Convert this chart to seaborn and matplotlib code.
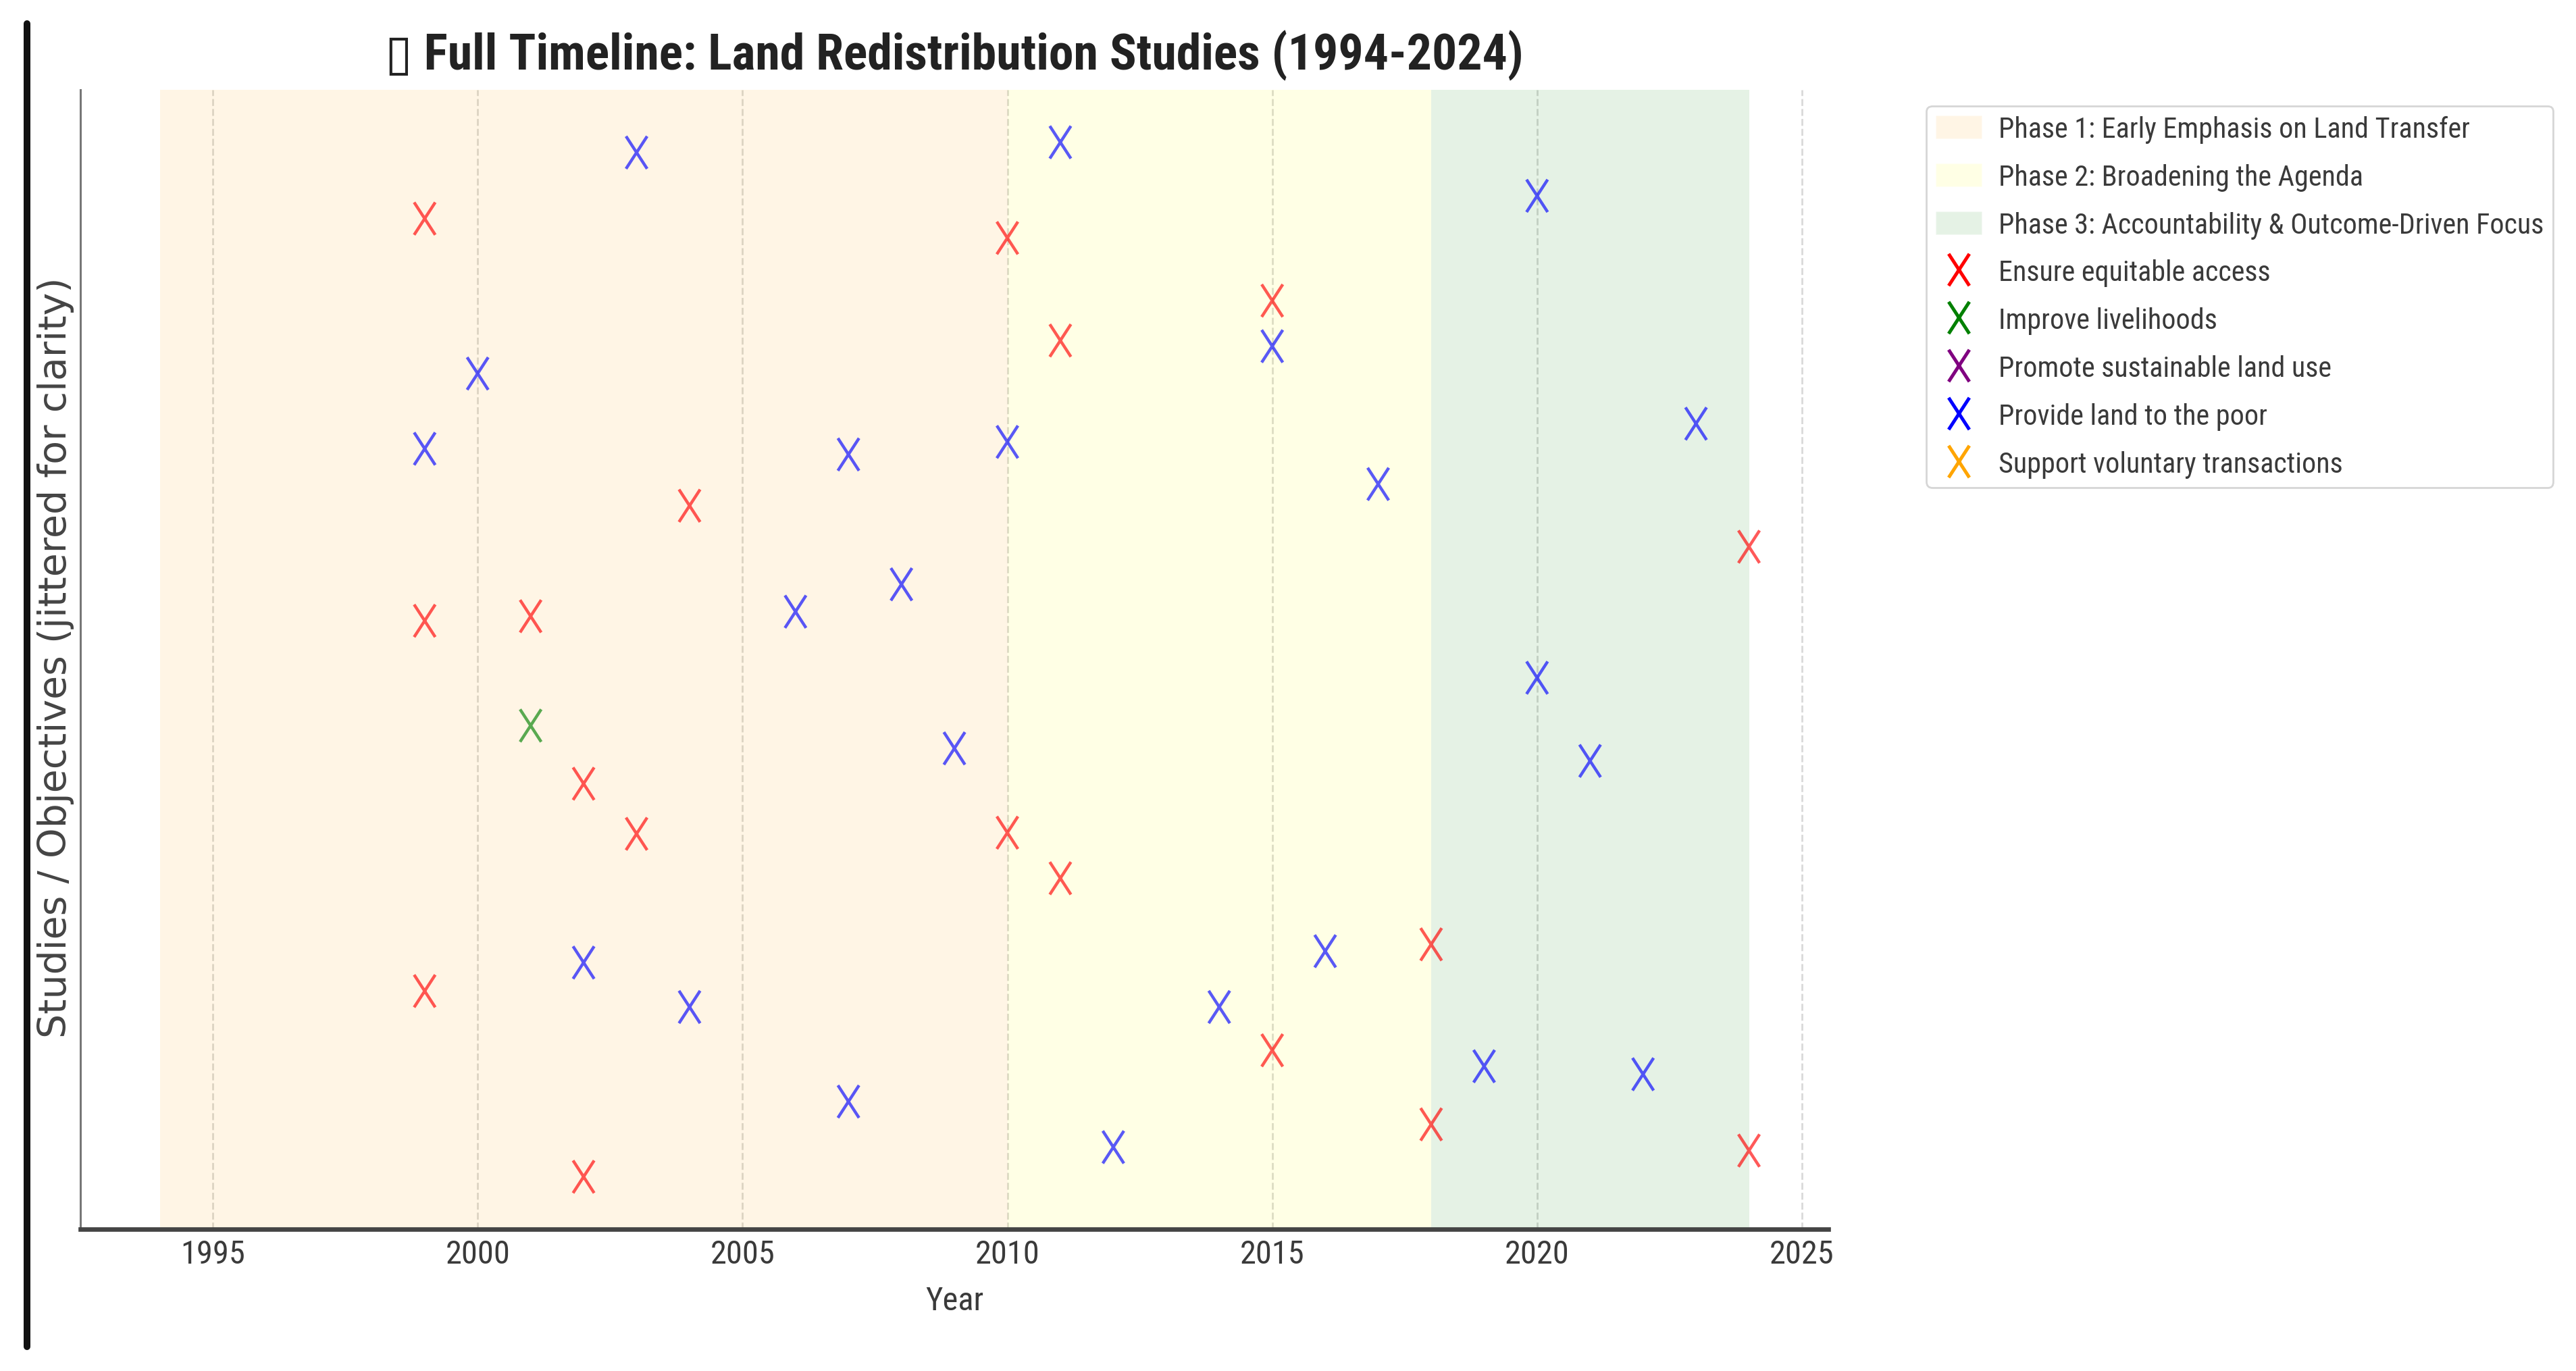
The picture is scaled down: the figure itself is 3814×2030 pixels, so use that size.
import matplotlib
matplotlib.use("Agg")
import matplotlib.pyplot as plt
import pandas as pd
import seaborn as sns
from matplotlib import font_manager
from matplotlib.lines import Line2D
from matplotlib.markers import MarkerStyle
from matplotlib.patches import Patch
from matplotlib.path import Path

# Objectives and their colours
objectives = [
    "Ensure equitable access",
    "Improve livelihoods",
    "Promote sustainable land use",
    "Provide land to the poor",
    "Support voluntary transactions",
]
objective_colors = ["red", "green", "purple", "blue", "orange"]

# Study years and jittered vertical positions, per objective
equitable_years = [1999, 2010, 2015, 2011, 2004, 2024, 1999, 2001, 2002,
                   2003, 2010, 2011, 2018, 1999, 2015, 2018, 2002, 2024]
equitable_pos = [8.87, 8.70, 8.15, 7.80, 6.35, 5.99, 5.34, 5.38, 3.91,
                 3.47, 3.48, 3.08, 2.50, 2.09, 1.57, 0.92, 0.46, 0.69]

livelihood_years = [2001]
livelihood_pos = [4.42]

poor_years = [2003, 2011, 2020, 2000, 2015, 1999, 2007, 2010, 2023, 2017, 2008, 2006,
              2020, 2009, 2021, 2002, 2016, 2004, 2014, 2019, 2022, 2007, 2012]
poor_pos = [9.45, 9.54, 9.07, 7.51, 7.75, 6.85, 6.80, 6.91, 7.07, 6.54, 5.66, 5.42,
            4.84, 4.22, 4.11, 2.34, 2.44, 1.95, 1.95, 1.43, 1.36, 1.12, 0.72]

# Phases of the timeline
phase_labels = [
    "Phase 1: Early Emphasis on Land Transfer",
    "Phase 2: Broadening the Agenda",
    "Phase 3: Accountability & Outcome-Driven Focus",
]
phase_start = [1994, 2010, 2018]
phase_end = [2010, 2018, 2024]
phase_colors = ["orange", "yellow", "green"]

df = pd.concat([
    pd.DataFrame({"Year": equitable_years, "pos": equitable_pos, "Objective": objectives[0]}),
    pd.DataFrame({"Year": livelihood_years, "pos": livelihood_pos, "Objective": objectives[1]}),
    pd.DataFrame({"Year": poor_years, "pos": poor_pos, "Objective": objectives[3]}),
], ignore_index=True)

# The reference screenshot is squeezed sideways: prefer a narrow family if one exists
fonts = font_manager.fontManager.ttflist
names = {f.name for f in fonts}
narrow_family, narrow_stretch = None, "normal"
for name in ["Liberation Sans Narrow", "Roboto Condensed", "Noto Sans Condensed",
             "Open Sans Condensed", "DejaVu Sans Condensed", "Noto Sans SemiCondensed"]:
    if name in names:
        narrow_family = name
        break
if narrow_family is None:
    for base in ["DejaVu Sans", "Noto Sans", "Roboto", "Open Sans"]:
        hit = [f for f in fonts if f.name == base and "condensed" in str(f.stretch)]
        if hit:
            narrow_family, narrow_stretch = base, hit[0].stretch
            break
if narrow_family is None:
    narrow_family = "Roboto" if "Roboto" in names else "DejaVu Sans"

sns.set_style("white")
plt.rcParams["font.family"] = [narrow_family, "DejaVu Sans"]
plt.rcParams["font.stretch"] = narrow_stretch
plt.rcParams["text.color"] = "#2b2b2b"

narrow_x = MarkerStyle(
    Path([(-0.65, -1), (0.65, 1), (-0.65, 1), (0.65, -1)],
         [Path.MOVETO, Path.LINETO, Path.MOVETO, Path.LINETO]),
    fillstyle="none",
)

fig = plt.figure(figsize=(19.07, 10.155), dpi=200)
ax = fig.add_axes([0.0312, 0.1034, 0.6786, 0.8306])

for start, end, color in zip(phase_start, phase_end, phase_colors):
    ax.axvspan(start, end, color=color, alpha=0.1, linewidth=0)

sns.scatterplot(
    data=df, x="Year", y="pos", hue="Objective",
    hue_order=objectives, palette=dict(zip(objectives, objective_colors)),
    marker=narrow_x, s=300, linewidth=1.6, alpha=0.65, legend=False, ax=ax,
)
# the x marker is only strokes: move the hue colours onto the edges
pts = ax.collections[-1]
pts.set_edgecolor(pts.get_facecolor())
pts.set_facecolor("none")

ax.set_ylim(0, 10)
ax.set_yticks([])
ax.set_xticks(range(1995, 2026, 5))
ax.grid(axis="x", linestyle="--", color="#bbbbbb", linewidth=1.0, alpha=0.55)
ax.tick_params(axis="x", direction="in", length=4, width=1.5, color="#444444",
               labelsize=19, labelcolor="#3a3a3a", pad=5)
sns.despine(ax=ax)
ax.spines["left"].set_color("#777777")
ax.spines["left"].set_linewidth(1.1)
ax.spines["bottom"].set_color("#444444")
ax.spines["bottom"].set_linewidth(2.4)

title = ax.set_title("\u25af Full Timeline: Land Redistribution Studies (1994-2024)",
                     fontsize=25, fontweight="bold", pad=11, color="#222222")
ax.set_xlabel("Year", fontsize=19, color="#3a3a3a")
ax.xaxis.set_label_coords(0.5, -0.049)
ax.set_ylabel("Studies / Objectives (jittered for clarity)", fontsize=20.5,
              family=["DejaVu Sans"], stretch="normal", color="#444444")
ax.yaxis.set_label_coords(-0.0035, 0.502)


def build_legend(fs, spacing):
    fs_px = fs * 200 / 72
    handles = [Patch(facecolor=c, alpha=0.1, label=l) for l, c in zip(phase_labels, phase_colors)]
    handles += [
        Line2D([], [], linestyle="none", marker=narrow_x, markersize=17,
               markeredgewidth=1.8, color=c, label=o)
        for o, c in zip(objectives, objective_colors)
    ]
    leg = ax.legend(handles=handles, loc="upper left", bbox_to_anchor=(1.056, 0.986),
                    borderaxespad=0, fontsize=fs, handlelength=68 / fs_px,
                    handleheight=37 / fs_px, handletextpad=25 / fs_px,
                    borderpad=14 / fs_px, labelspacing=spacing, frameon=True)
    for text in leg.get_texts():
        text.set_color("#3a3a3a")
    return leg


leg = build_legend(15.5, 0.5)

# size texts so their widths follow the squeezed reference
fig.canvas.draw()
renderer = fig.canvas.get_renderer()


def fitted(artist, target_px, cap):
    width = artist.get_window_extent(renderer).width
    return min(artist.get_fontsize() * target_px / width, cap)


tick_size = fitted(ax.get_xticklabels()[1], 96, 21)
title.set_fontsize(fitted(title, 1687, 28))
legend_size = fitted(leg.get_texts()[2], 806, 17.5)
ax.tick_params(axis="x", labelsize=tick_size)
ax.xaxis.label.set_fontsize(tick_size)

leg = build_legend(legend_size, 0.5)
fig.canvas.draw()
fs_px = legend_size * 200 / 72
row_h = max(leg.get_texts()[0].get_window_extent(renderer).height, 37)
leg = build_legend(legend_size, max((71 - row_h) / fs_px, 0.1))

# dark border line at the left edge of the screenshot
fig.add_artist(Line2D([40 / 3814, 40 / 3814], [1 - 36 / 2031, 1 - 1995 / 2031],
                      transform=fig.transFigure, color="#111111", linewidth=3.6))

fig.savefig("out.png", dpi=200)
